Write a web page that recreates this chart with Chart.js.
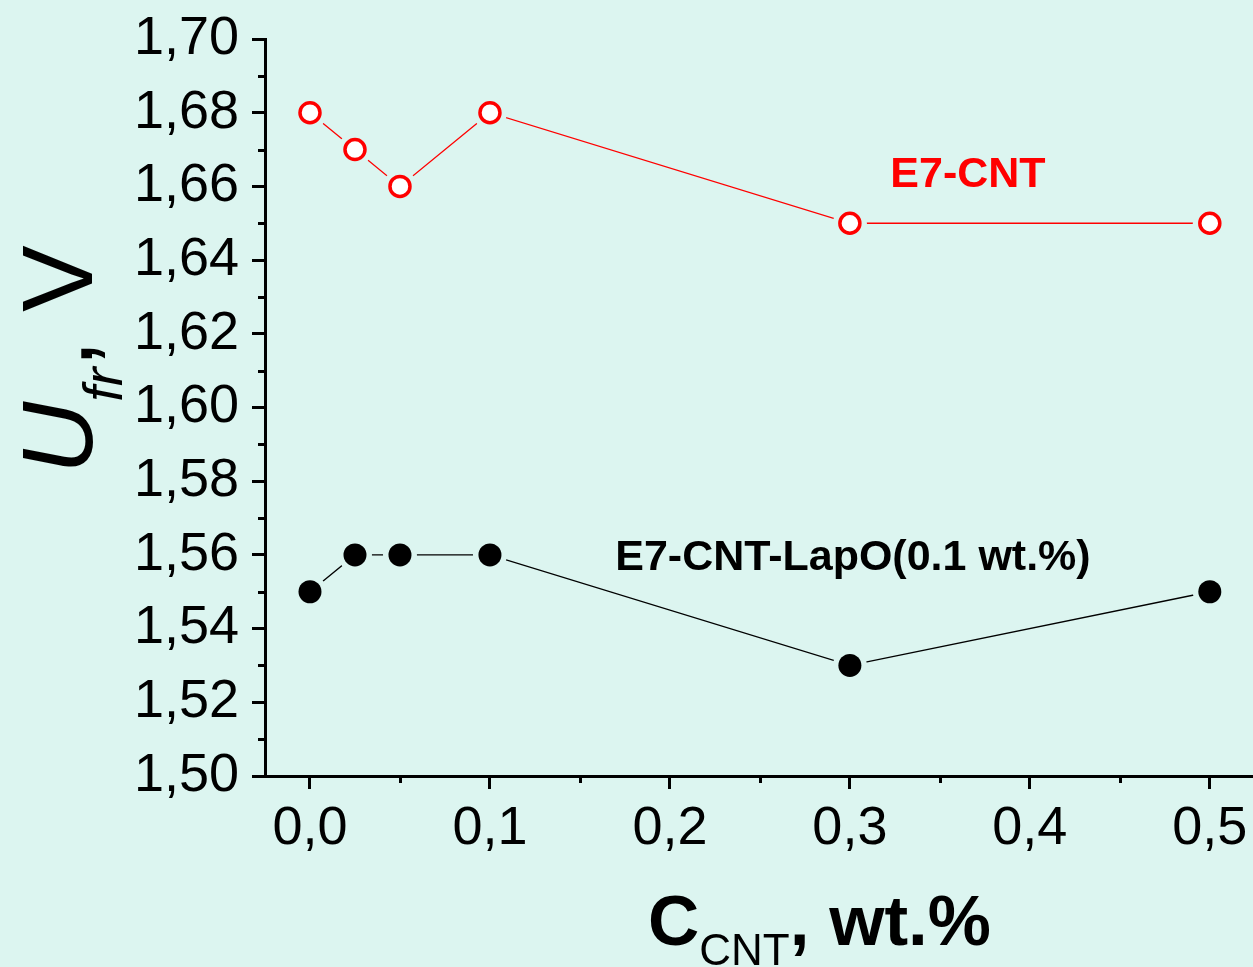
<!DOCTYPE html>
<html>
<head>
<meta charset="utf-8">
<script src="https://cdn.jsdelivr.net/npm/chart.js@4"></script>
<style>
  html, body { margin: 0; padding: 0; background: #dcf5f0; }
  canvas { display: block; }
</style>
</head>
<body>
<canvas id="myChart" width="1253" height="967"></canvas>
<script>
// data
const concentration = [0, 0.025, 0.05, 0.1, 0.3, 0.5];
const voltageE7CNT = [1.68, 1.67, 1.66, 1.68, 1.65, 1.65];
const voltageLapO = [1.55, 1.56, 1.56, 1.56, 1.53, 1.55];
const seriesNames = ["E7-CNT", "E7-CNT-LapO(0.1 wt.%)"];
const xTicks = [0, 0.1, 0.2, 0.3, 0.4, 0.5];
const yTicks = [1.5, 1.52, 1.54, 1.56, 1.58, 1.6, 1.62, 1.64, 1.66, 1.68, 1.7];

const BG = "#dcf5f0";
const FONT = "'Liberation Sans', Arial, sans-serif";

const pts = (ys) => concentration.map((x, i) => ({ x: x, y: ys[i] }));

// plain line, halo around the symbols (Origin-style gap), then the symbols
const lineSet = (ys, color) => ({
  data: pts(ys), showLine: true, borderColor: color, borderWidth: 1.3,
  pointRadius: 0, order: 3,
});
const haloSet = (ys) => ({
  data: pts(ys), showLine: false, pointRadius: 17,
  pointBackgroundColor: BG, pointBorderWidth: 0, order: 2,
});

// keep the plot area fixed, labels may hang over it
const noOverhang = (s) => {
  s.paddingTop = 0;
  s.paddingBottom = 0;
  s.paddingLeft = 0;
  s.paddingRight = 0;
};

const decorations = {
  id: "decorations",
  afterDraw(chart) {
    const { ctx, chartArea: a, scales: { x, y } } = chart;
    ctx.save();

    // minor ticks
    ctx.strokeStyle = "#000";
    ctx.lineWidth = 3;
    ctx.beginPath();
    for (let i = 0; i < xTicks.length - 1; i++) {
      const px = Math.round(x.getPixelForValue((xTicks[i] + xTicks[i + 1]) / 2)) + 0.5;
      ctx.moveTo(px, a.bottom);
      ctx.lineTo(px, a.bottom + 7);
    }
    for (let i = 0; i < yTicks.length - 1; i++) {
      const py = Math.round(y.getPixelForValue((yTicks[i] + yTicks[i + 1]) / 2)) + 0.5;
      ctx.moveTo(a.left, py);
      ctx.lineTo(a.left - 7, py);
    }
    ctx.stroke();

    // series labels
    ctx.font = "bold 43px " + FONT;
    ctx.textAlign = "center";
    ctx.textBaseline = "alphabetic";
    ctx.fillStyle = "#ff0000";
    ctx.fillText(seriesNames[0], x.getPixelForValue(0.3656), y.getPixelForValue(1.6598));
    ctx.fillStyle = "#000";
    ctx.fillText(seriesNames[1], x.getPixelForValue(0.3017), y.getPixelForValue(1.556));

    // x title: C_CNT, wt.%
    ctx.textAlign = "left";
    let cx = 648;
    const by = 945;
    ctx.font = "bold 71px " + FONT;
    ctx.fillText("C", cx, by);
    cx += ctx.measureText("C").width;
    ctx.font = "44px " + FONT;
    ctx.fillText("CNT", cx, by + 20);
    cx += ctx.measureText("CNT").width;
    ctx.font = "bold 71px " + FONT;
    ctx.fillText(", wt.%", cx, by);

    // y title: U_fr, V
    ctx.translate(92, 474);
    ctx.rotate(-Math.PI / 2);
    let t = 0;
    ctx.font = "italic 100px " + FONT;
    ctx.fillText("U", t, 0);
    t += ctx.measureText("U").width;
    ctx.font = "italic 56px " + FONT;
    ctx.fillText("fr", t, 30);
    t += ctx.measureText("fr").width;
    ctx.font = "100px " + FONT;
    ctx.fillText(", V", t, 0);

    ctx.restore();
  },
};

const ctx = document.getElementById("myChart");

new Chart(ctx, {
  type: "line",
  data: {
    datasets: [
      {
        data: pts(voltageE7CNT), showLine: false, order: 1,
        pointRadius: 10, pointBorderWidth: 3.5,
        pointBorderColor: "#ff0000", pointBackgroundColor: "#ffffff",
      },
      {
        data: pts(voltageLapO), showLine: false, order: 1,
        pointRadius: 11.5, pointBorderWidth: 0,
        pointBackgroundColor: "#000000",
      },
      haloSet(voltageE7CNT),
      haloSet(voltageLapO),
      lineSet(voltageE7CNT, "#ff0000"),
      lineSet(voltageLapO, "#000000"),
    ],
  },
  options: {
    responsive: false,
    devicePixelRatio: 1,
    animation: false,
    events: [],
    layout: { autoPadding: false, padding: { top: 39, right: 0, bottom: 0, left: 0 } },
    plugins: { legend: { display: false }, tooltip: { enabled: false } },
    scales: {
      x: {
        type: "linear",
        min: -0.025,
        max: 0.524,
        afterBuildTicks: (s) => { s.ticks = xTicks.map((v) => ({ value: v })); },
        afterFit: (s) => { s.height = 191; noOverhang(s); },
        border: { display: true, color: "#000", width: 3 },
        grid: { drawOnChartArea: false, tickLength: 13, tickWidth: 3, tickColor: "#000" },
        ticks: {
          color: "#000", padding: 8, maxRotation: 0,
          font: { family: FONT, size: 54, lineHeight: 1.2 },
          callback: (v) => v.toFixed(1).replace(".", ","),
        },
      },
      y: {
        min: 1.5,
        max: 1.7,
        afterBuildTicks: (s) => { s.ticks = yTicks.map((v) => ({ value: v })); },
        afterFit: (s) => { s.width = 265; noOverhang(s); },
        border: { display: true, color: "#000", width: 3 },
        grid: { drawOnChartArea: false, tickLength: 13, tickWidth: 3, tickColor: "#000" },
        ticks: {
          color: "#000", padding: 13,
          font: { family: FONT, size: 54, lineHeight: 1.2 },
          callback: (v) => v.toFixed(2).replace(".", ","),
        },
      },
    },
  },
  plugins: [decorations],
});
</script>
</body>
</html>
